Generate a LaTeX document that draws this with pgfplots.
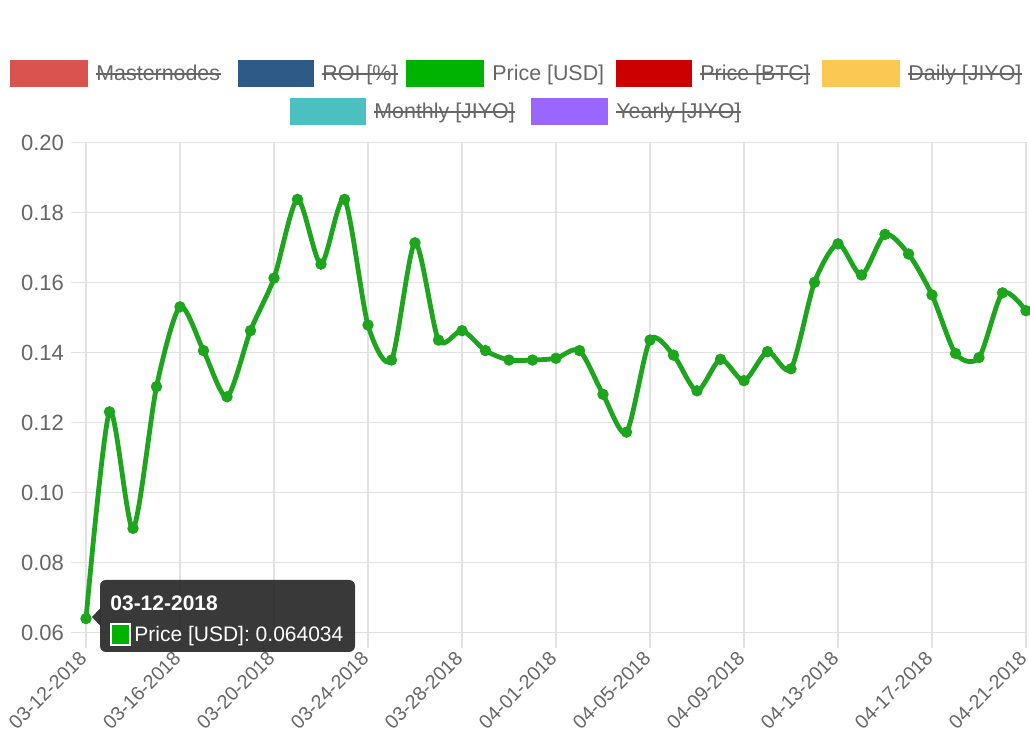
\documentclass[border=0pt]{standalone}
\usepackage{pgfplots}
\pgfplotsset{compat=1.18}
\usepackage{fontspec}
\setmainfont{Liberation Sans}
\definecolor{linegreen}{RGB}{30,165,30}
\definecolor{gridgray}{RGB}{226,226,226}
\definecolor{txtgray}{RGB}{102,102,102}
\definecolor{cMaster}{RGB}{217,83,79}
\definecolor{cROI}{RGB}{46,90,135}
\definecolor{cUSD}{RGB}{0,179,0}
\definecolor{cBTC}{RGB}{204,0,0}
\definecolor{cDaily}{RGB}{251,200,81}
\definecolor{cMonthly}{RGB}{75,192,192}
\definecolor{cYearly}{RGB}{153,102,255}
\definecolor{tipbg}{RGB}{40,40,40}
\pgfplotstableread{
idx price
0 0.064034
1 0.1231
2 0.0898
3 0.1303
4 0.1531
5 0.1406
6 0.1274
7 0.1463
8 0.1613
9 0.1838
10 0.1653
11 0.1838
12 0.1479
13 0.1379
14 0.1714
15 0.1436
16 0.1463
17 0.1406
18 0.1379
19 0.1379
20 0.1384
21 0.1406
22 0.1281
23 0.1173
24 0.1436
25 0.1393
26 0.1291
27 0.1381
28 0.1320
29 0.1403
30 0.1354
31 0.1601
32 0.1711
33 0.1622
34 0.1738
35 0.1682
36 0.1565
37 0.1398
38 0.1386
39 0.1571
40 0.1520
}\pricedata
\newcommand{\legitem}[6]{%
  \fill[#1] (#2,#4) rectangle (#3,#4+27);
  \node[lg] (lgt) at (#3+8,#4+21) {#5};
  \ifnum#6=1
    \draw[txtgray, line width=0.9pt] ([yshift=3.4pt]lgt.base west) -- ([yshift=3.4pt]lgt.base east);
  \fi
}
\begin{document}
\begin{tikzpicture}
\useasboundingbox (0,0) rectangle (515pt,368.5pt);
\clip (0,0) rectangle (515pt,368.5pt);
\begin{axis}[
  at={(43pt,52.15pt)}, anchor=south west,
  width=470pt, height=245pt, scale only axis,
  xmin=0, xmax=40, ymin=0.06, ymax=0.20,
  xtick={0,4,...,40},
  xticklabels={03-12-2018,03-16-2018,03-20-2018,03-24-2018,03-28-2018,04-01-2018,04-05-2018,04-09-2018,04-13-2018,04-17-2018,04-21-2018},
  ytick={0.06,0.08,0.10,0.12,0.14,0.16,0.18,0.20},
  scaled y ticks=false,
  yticklabel style={/pgf/number format/fixed, /pgf/number format/fixed zerofill, /pgf/number format/precision=2, /pgf/number format/assume math mode=true, font=\fontsize{11}{13}\selectfont},
  tick label style={text=txtgray},
  xticklabel style={font=\fontsize{9.8}{11}\selectfont, rotate=45, anchor=east, yshift=-1.5pt},
  tick pos=left,
  grid=major,
  grid style={draw=gridgray, line width=0.6pt},
  axis line style={draw=gridgray, line width=0.6pt},
  tick align=outside,
  major tick length=7.5pt,
  tick style={draw=gridgray, line width=0.6pt},
  clip=false,
]
\addplot[color=linegreen, line width=2.4pt, smooth, tension=0.45,
  mark=*, mark size=2.6pt, mark options={fill=linegreen, draw=linegreen, line width=0.5pt}]
  table[x=idx, y=price]{\pricedata};
\end{axis}
\begin{scope}[x=0.5pt, y=-0.5pt, yshift=368.5pt]
  \tikzset{lg/.style={anchor=base west, inner sep=0pt, text=txtgray, font=\fontsize{10.7}{13}\selectfont}}
  \legitem{cMaster}{10}{88}{60}{Masternodes}{1}
  \legitem{cROI}{238}{314}{60}{ROI [\%]}{1}
  \legitem{cUSD}{406}{484}{60}{Price [USD]}{0}
  \legitem{cBTC}{616}{692}{60}{Price [BTC]}{1}
  \legitem{cDaily}{822}{900}{60}{Daily [JIYO]}{1}
  \legitem{cMonthly}{290}{366}{98}{Monthly [JIYO]}{1}
  \legitem{cYearly}{531}{608}{98}{Yearly [JIYO]}{1}
  % tooltip
  \fill[tipbg, opacity=0.92, rounded corners=3pt] (100,580) rectangle (355,652);
  \fill[tipbg, opacity=0.92] (100.5,608) -- (92,617) -- (100.5,626) -- cycle;
  \node[anchor=base west, inner sep=0pt, text=white, font=\bfseries\fontsize{10.5}{12}\selectfont] at (110,611) {03-12-2018};
  \fill[white] (110,623) rectangle (131,646);
  \fill[cUSD] (112,625) rectangle (129,644);
  \node[anchor=base west, inner sep=0pt, text=white, font=\fontsize{10.5}{12}\selectfont] at (134,642) {Price [USD]: 0.064034};
\end{scope}
\end{tikzpicture}
\end{document}
